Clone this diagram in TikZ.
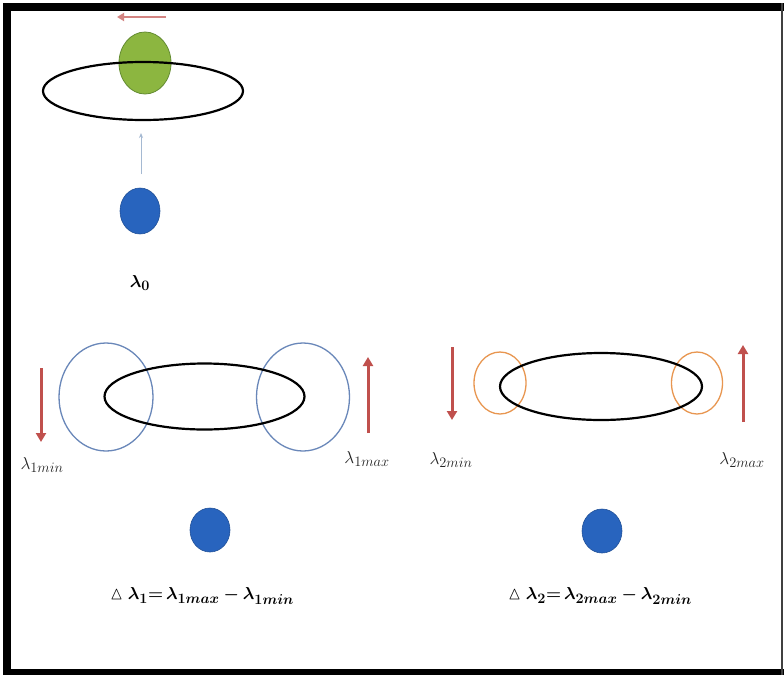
\documentclass[tikz,border=0pt]{standalone}
\usepackage{amsmath,amssymb,bm}
\usetikzlibrary{shapes.geometric,arrows.meta}
\DeclareMathSizes{18}{18}{15}{11}
\definecolor{ballblue}{RGB}{40,100,190}
\definecolor{ballgreen}{RGB}{140,182,64}
\definecolor{greenedge}{RGB}{100,140,50}
\definecolor{arrowred}{RGB}{192,80,77}
\definecolor{ringblue}{RGB}{105,135,185}
\definecolor{ringorange}{RGB}{232,150,80}
\definecolor{faintblue}{RGB}{165,185,210}
\definecolor{labelgray}{RGB}{35,35,35}
\tikzset{
  orbit/.style={ellipse, draw=black, line width=2.2pt, inner sep=0pt},
  ball/.style={ellipse, fill=ballblue, draw=ballblue!80!black, line width=0.6pt, inner sep=0pt, minimum width=40pt, minimum height=44pt},
  bluering/.style={ellipse, draw=ringblue, line width=1.3pt, inner sep=0pt},
  orangering/.style={ellipse, draw=ringorange, line width=1.3pt, inner sep=0pt},
  shiftarrow/.style={draw=arrowred, line width=3pt, -{Triangle[width=10pt,length=9pt]}},
  lab/.style={text=labelgray, font=\fontsize{18}{20}\selectfont, inner sep=1pt},
  formula/.style={text=black, font=\fontsize{18}{20}\selectfont, inner sep=1pt}
}
\begin{document}
\begin{tikzpicture}[x=1pt,y=-1pt]
\useasboundingbox (0,0) rectangle (784,675);
\fill[white] (0,0) rectangle (784,675);
% frame
\fill[black] (3,3) rectangle (784,11);
\fill[black] (3,3) rectangle (11,675);
\fill[black] (3,669) rectangle (784,675);
\fill[black!75] (781,3) rectangle (783,675);

% ---- top: unperturbed orbit ----
\node[ellipse, fill=ballgreen, draw=greenedge, line width=0.8pt, inner sep=0pt,
      minimum width=52pt, minimum height=62pt] (g0) at (145,63) {};
\node[orbit, minimum width=200pt, minimum height=58pt] (o0) at (143,91) {};
\coordinate (ra) at (166,17);
\coordinate (rb) at (117,17);
\draw[draw=arrowred!70, line width=2pt, -{Triangle[width=8pt,length=7pt]}] (ra) -- (rb);
\node[ball, minimum width=40pt, minimum height=46pt] (b0) at (140,211) {};
\coordinate (fa) at (141,174);
\coordinate (fb) at (141,133);
\draw[draw=faintblue, line width=1pt, -{Stealth[width=4pt,length=5pt]}] (fa) -- (fb);
\node[formula] (l0) at (140,283) {$\boldsymbol{\lambda_0}$};

% ---- bottom left ----
\node[bluering, minimum width=94pt, minimum height=108pt] (c1l) at (106,397) {};
\node[bluering, minimum width=93pt, minimum height=108pt] (c1r) at (303,397) {};
\node[orbit, minimum width=200pt, minimum height=66pt] (o1) at (204.5,396.5) {};
\coordinate (d1a) at (41,368);
\coordinate (d1b) at (41,442);
\draw[shiftarrow] (d1a) -- (d1b);
\coordinate (u1a) at (368,433);
\coordinate (u1b) at (368,357);
\draw[shiftarrow] (u1a) -- (u1b);
\node[lab] (l1min) at (42,465) {$\lambda_{1min}$};
\node[lab] (l1max) at (367,459) {$\lambda_{1max}$};
\node[ball] (b1) at (210,530) {};
\node[formula] (f1) at (202,596) {$\vartriangle\boldsymbol{\lambda_1{=}\,\lambda_{1max}-\lambda_{1min}}$};

% ---- bottom right ----
\node[orangering, minimum width=52pt, minimum height=62pt] (c2l) at (500,383) {};
\node[orangering, minimum width=51pt, minimum height=62pt] (c2r) at (697,383) {};
\node[orbit, minimum width=202pt, minimum height=67pt] (o2) at (601,386.5) {};
\coordinate (d2a) at (452,347);
\coordinate (d2b) at (452,420);
\draw[shiftarrow] (d2a) -- (d2b);
\coordinate (u2a) at (743,422);
\coordinate (u2b) at (743,345);
\draw[shiftarrow] (u2a) -- (u2b);
\node[lab] (l2min) at (451,460) {$\lambda_{2min}$};
\node[lab] (l2max) at (742,460) {$\lambda_{2max}$};
\node[ball] (b2) at (602,531) {};
\node[formula] (f2) at (600,596) {$\vartriangle\boldsymbol{\lambda_2{=}\,\lambda_{2max}-\lambda_{2min}}$};
\end{tikzpicture}
\end{document}
